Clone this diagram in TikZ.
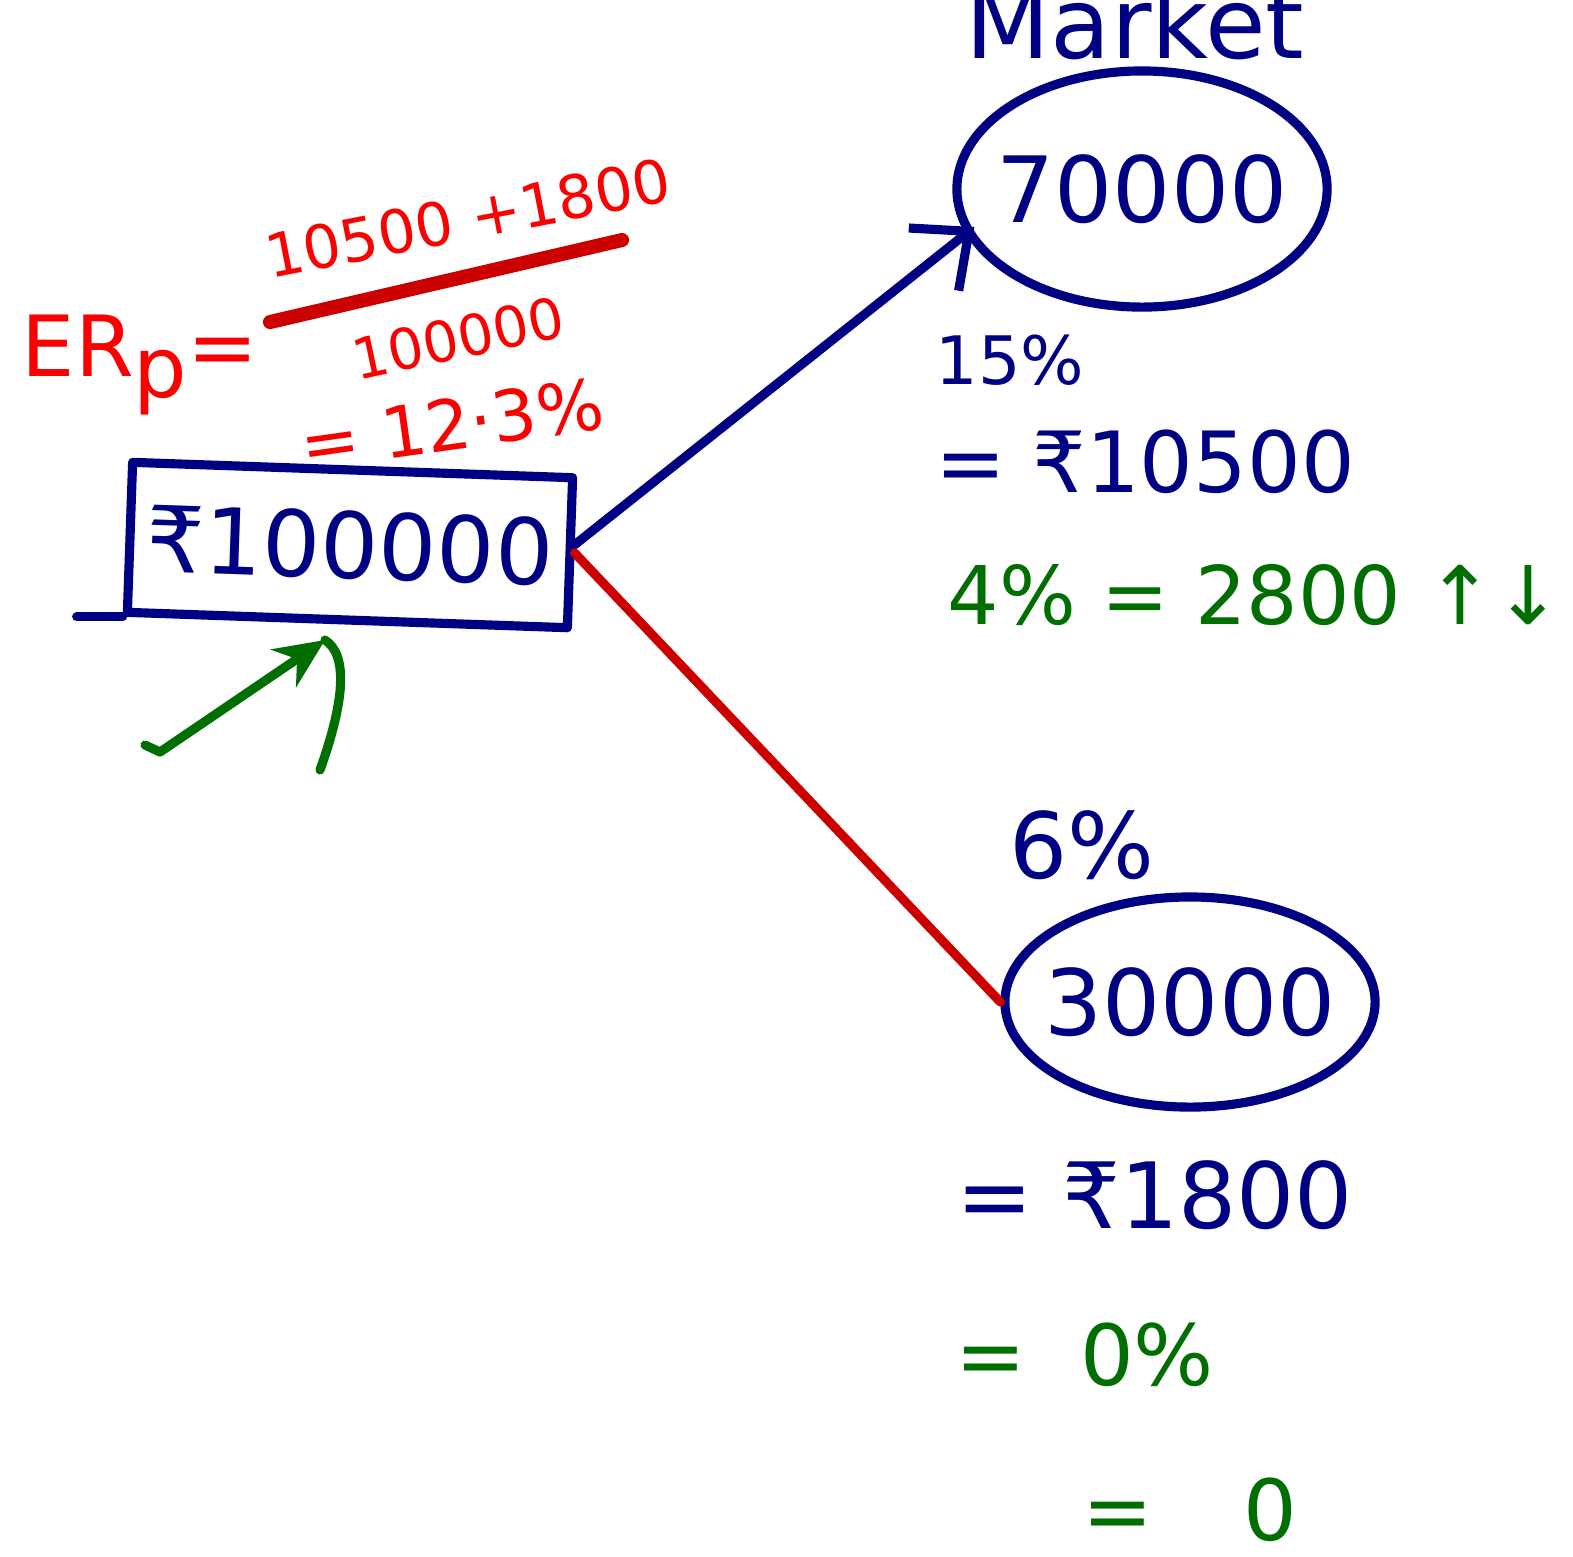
\documentclass[tikz,border=0pt]{standalone}
\usepackage{fontspec}
\setmainfont{DejaVu Sans}
\usetikzlibrary{arrows.meta,shapes.geometric}

\definecolor{inkblue}{RGB}{0,0,130}
\definecolor{inkred}{RGB}{250,0,0}
\definecolor{barred}{RGB}{205,0,0}
\definecolor{inkgreen}{RGB}{0,110,0}

\begin{document}
\begin{tikzpicture}[
  x=0.01cm, y=-0.01cm,
  pen/.style={line width=2.6pt, line cap=round, line join=round},
  blue/.style={text=inkblue, inner sep=0pt, font=\fontsize{#1}{#1}\selectfont},
  red/.style={text=inkred, inner sep=0pt, font=\fontsize{#1}{#1}\selectfont},
  green/.style={text=inkgreen, inner sep=0pt, font=\fontsize{#1}{#1}\selectfont},
  moneybox/.style={draw=inkblue, pen, rectangle, minimum width=4.4cm, minimum height=1.5cm,
    text=inkblue, font=\fontsize{26}{26}\selectfont},
  asset/.style={draw=inkblue, pen, ellipse, inner xsep=-0.16cm, inner ysep=0pt,
    minimum width=3.7cm, text=inkblue, font=\fontsize{26}{26}\selectfont},
]

\useasboundingbox (0,0) rectangle (1573,1556);
\clip (0,0) rectangle (1573,1556);

% investment and the two assets
\node[moneybox, rotate=-2] (invest) at (350,545) {₹100000};
\node[asset, minimum height=2.36cm] (mkt) at (1142,189) {70000};
\node[asset, minimum height=2.1cm] (rf) at (1190,1002) {30000};

\draw[pen, inkblue] (invest.south west) -- ++(-46,0);

% splits
\draw[pen, inkblue, -{Straight Barb[length=4.5mm, width=8mm]}]
  ([yshift=0.08cm]invest.east) -- ([xshift=0.22cm, yshift=-0.38cm]mkt.west);
\draw[pen, barred] (invest.east) -- (rf.west);

% market side
\node[blue=28, anchor=base] (mktname) at (1135,58) {Market};
\node[blue=19] (mktret) at (1010,360) {15\%};
\node[blue=24] (mktamt) at (1145,462) {= ₹10500};
\node[green=23] (mktrisk) at (1255,595) {4\% = 2800 ↑↓};

% risk-free side
\node[blue=26] (rfret) at (1082,845) {6\%};
\node[blue=26] (rfamt) at (1155,1195) {= ₹1800};
\node[green=24] (rfrisk) at (1085,1355) {=~~0\%};
\node[green=24] (rfzero) at (1190,1510) {=\hspace{0.9cm}0};

% expected return of portfolio
\node[red=24] (erp) at (140,365) {ER\raisebox{-0.25em}{p}=};
\node[red=17, rotate=11] (num) at (468,218) {10500 +1800};
\node[red=16, rotate=12] (den) at (458,338) {100000};
\node[red=20, rotate=8] (res) at (452,424) {= 12·3\%};
\draw[line width=4pt, line cap=round, barred] (270,322) -- (622,240);

% pointer to the box
\coordinate (gtip) at (325,640);
\draw[pen, inkgreen, -{Stealth[length=5mm, width=4.5mm]}] (145,745) -- (160,752) -- (gtip);
\draw[pen, inkgreen] (320,770) .. controls (345,700) and (348,655) .. (gtip);

\end{tikzpicture}
\end{document}
